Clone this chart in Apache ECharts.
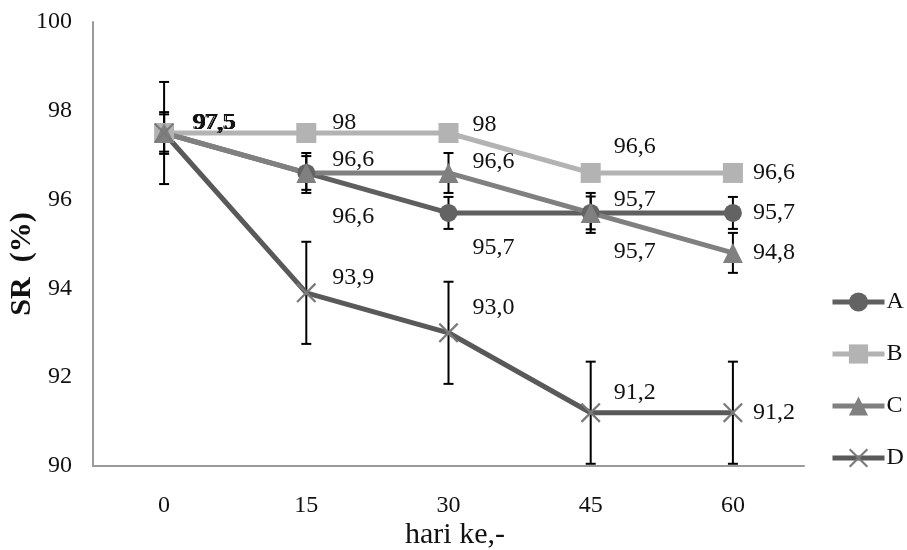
<!DOCTYPE html>
<html>
<head>
<meta charset="utf-8">
<script src="https://cdn.jsdelivr.net/npm/echarts@6/dist/echarts.min.js"></script>
<style>html,body{margin:0;padding:0;background:#fff;}#c{width:907px;height:550px;}</style>
</head>
<body>
<div id="c"></div>
<script>
const categories = ['0', '15', '30', '45', '60'];
const yTicks = [90, 92, 94, 96, 98, 100];
const seriesNames = ['A', 'B', 'C', 'D'];
const valA = [97.5, 96.6, 95.7, 95.7, 95.7];
const valB = [97.5, 97.5, 97.5, 96.6, 96.6];
const valC = [97.5, 96.6, 96.6, 95.7, 94.8];
const valD = [97.5, 93.9, 93.0, 91.2, 91.2];
const labA = ['97,5', '96,6', '95,7', '95,7', '95,7'];
const labB = ['97,5', '98', '98', '96,6', '96,6'];
const labC = ['97,5', '96,6', '96,6', '95,7', '94,8'];
const labD = ['97,5', '93,9', '93,0', '91,2', '91,2'];
const errA = [0.42, 0.38, 0.36, 0.37, 0.36];
const errC = [0.47, 0.45, 0.45, 0.45, 0.45];
const errD = [1.15, 1.15, 1.15, 1.15, 1.15];

// label offsets (style, kept separate from data)
const offA = [[30,-10],[26,44],[24,35],[23,39],[20,0]];
const offB = [[28,-10],[26,-10],[24,-8],[23,-26],[20,0]];
const offC = [[30,-10],[26,-13],[24,-11],[23,-13],[20,0]];
const offD = [[30,-10],[26,-15],[24,-25],[23,-20],[20,0]];

const FONT = '"Liberation Serif", "Times New Roman", serif';
const xPath = 'path://M0,0.8L0.8,0L10,9.2L9.2,10Z M9.2,0L10,0.8L0.8,10L0,9.2Z';

function lineSeries(name, vals, labs, offs, symbol, size, color, lineColor) {
  return {
    name: name, type: 'line', z: 3,
    symbol: symbol, symbolSize: size, symbolKeepAspect: true,
    itemStyle: { color: color },
    lineStyle: { color: lineColor, width: 5 },
    data: vals.map((v, i) => ({ value: v, label: { offset: offs[i] } })),
    label: {
      show: true, position: 'inside', align: 'left', verticalAlign: 'middle',
      fontFamily: FONT, fontSize: 24, color: '#111',
      formatter: p => labs[p.dataIndex]
    },
    emphasis: { disabled: true }, animation: false
  };
}

function errSeries(vals, errs) {
  return {
    type: 'custom', z: 2, animation: false, silent: true,
    data: vals.map((v, i) => [i, v - errs[i], v + errs[i]]),
    encode: { x: 0, y: [1, 2] },
    renderItem: function (params, api) {
      const x = api.value(0);
      const p1 = api.coord([x, api.value(2)]);
      const p2 = api.coord([x, api.value(1)]);
      const w = 5;
      const st = { stroke: '#000', lineWidth: 2 };
      return { type: 'group', children: [
        { type: 'line', shape: { x1: p1[0], y1: p1[1], x2: p2[0], y2: p2[1] }, style: st },
        { type: 'line', shape: { x1: p1[0] - w, y1: p1[1], x2: p1[0] + w, y2: p1[1] }, style: st },
        { type: 'line', shape: { x1: p2[0] - w, y1: p2[1], x2: p2[0] + w, y2: p2[1] }, style: st }
      ]};
    }
  };
}

const chart = echarts.init(document.getElementById('c'), null, { renderer: 'canvas' });
chart.setOption({
  backgroundColor: '#fff',
  animation: false,
  grid: { left: 93, right: 103, top: 22, bottom: 84, containLabel: false },
  xAxis: {
    type: 'category', data: categories, boundaryGap: true,
    axisLine: { lineStyle: { color: '#9a9a9a', width: 2 } },
    axisTick: { show: false },
    axisLabel: { fontFamily: FONT, fontSize: 24, color: '#111', margin: 28 }
  },
  yAxis: {
    type: 'value', min: yTicks[0], max: yTicks[yTicks.length - 1], interval: 2,
    axisLine: { show: true, lineStyle: { color: '#9a9a9a', width: 2 } },
    axisTick: { show: false },
    splitLine: { show: false },
    axisLabel: { fontFamily: FONT, fontSize: 24, color: '#111', margin: 21 }
  },
  legend: {
    data: seriesNames, orient: 'vertical', left: 830, top: 290, padding: 0,
    itemWidth: 52, itemHeight: 24, itemGap: 28,
    lineStyle: { width: 5 },
    textStyle: { fontFamily: FONT, fontSize: 24, color: '#111', padding: [0, 0, 0, -3] }
  },
  graphic: [
    { type: 'text', x: 22, y: 264, rotation: Math.PI / 2,
      style: { text: 'SR  (%)', font: 'bold 30px ' + FONT, fill: '#111', textAlign: 'center', textVerticalAlign: 'middle' } },
    { type: 'text', x: 455, y: 535,
      style: { text: 'hari ke,-', font: '30px ' + FONT, fill: '#111', textAlign: 'center', textVerticalAlign: 'middle' } }
  ],
  series: [
    errSeries(valA, errA),
    errSeries(valC, errC),
    errSeries(valD, errD),
    lineSeries('A', valA, labA, offA, 'circle', 18, '#636363', '#5f5f5f'),
    lineSeries('B', valB, labB, offB, 'rect', 20, '#b3b3b3', '#b3b3b3'),
    lineSeries('C', valC, labC, offC, 'triangle', 20, '#808080', '#808080'),
    lineSeries('D', valD, labD, offD, xPath, 20, '#7a7a7a', '#595959')
  ]
});
</script>
</body>
</html>
